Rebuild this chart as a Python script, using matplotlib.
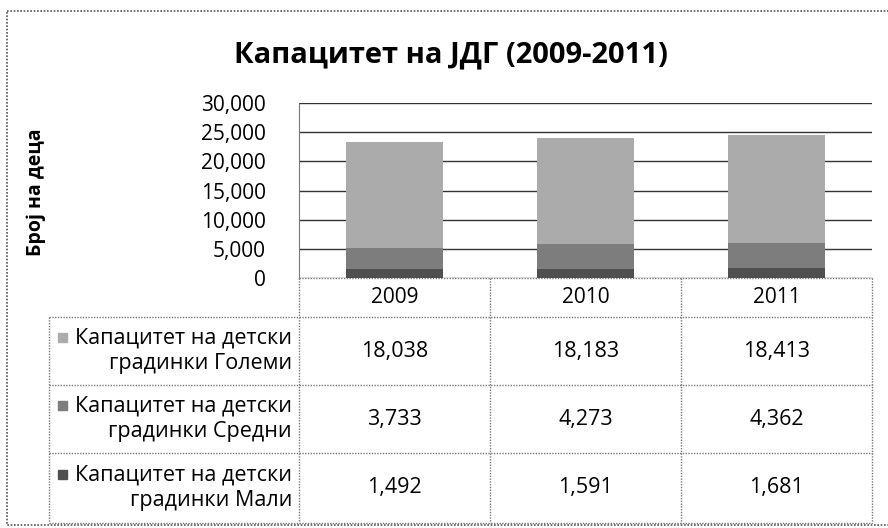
import matplotlib.pyplot as plt
import numpy as np
from matplotlib.patches import Rectangle

plt.rcParams['font.family'] = ['Open Sans', 'DejaVu Sans']

years = ["2009", "2010", "2011"]
series_names = [
    "Капацитет на детски\nградинки Големи",
    "Капацитет на детски\nградинки Средни",
    "Капацитет на детски\nградинки Мали",
]
golemi = [18038, 18183, 18413]
sredni = [3733, 4273, 4362]
mali = [1492, 1591, 1681]
colors = ["#ababab", "#7d7d7d", "#4f4f4f"]

W, H = 888, 528
fig = plt.figure(figsize=(W / 100, H / 100), dpi=100)


def fx(px):
    return px / W


def fy(py):
    return 1 - py / H


# overlay axes in pixel coordinates for frame and table
ov = fig.add_axes([0, 0, 1, 1])
ov.set_xlim(0, W)
ov.set_ylim(H, 0)
ov.axis("off")

ov.add_patch(Rectangle((7, 11), 890, 514, fill=False, ec="#555555", lw=1.2, ls=(0, (1, 1))))

fig.text(fx(451), fy(55), "Капацитет на ЈДГ (2009-2011)", ha="center", va="center",
         fontsize=21, fontweight="bold")
fig.text(fx(36), fy(192), "Број на деца", ha="center", va="center", rotation=90,
         fontsize=14, fontweight="bold")

# bar chart
left, right, top, bottom = 299, 872, 103, 278
ax = fig.add_axes([fx(left), fy(bottom), fx(right) - fx(left), fy(top) - fy(bottom)])
x = np.arange(len(years))
ax.bar(x, mali, width=0.51, color=colors[2], zorder=3)
ax.bar(x, sredni, width=0.51, bottom=mali, color=colors[1], zorder=3)
ax.bar(x, golemi, width=0.51, bottom=np.array(mali) + np.array(sredni), color=colors[0], zorder=3)
ax.set_xlim(-0.5, 2.5)
ax.set_ylim(0, 30000)
ax.set_yticks(np.arange(0, 30001, 5000))
ax.set_yticklabels([f"{v:,}" for v in range(0, 30001, 5000)], fontsize=15)
ax.set_xticks([])
ax.tick_params(axis="y", length=0, pad=24)
ax.yaxis.grid(True, color="#333333", lw=1, zorder=0)
for s in ax.spines.values():
    s.set_visible(False)
ax.spines["left"].set_visible(True)
ax.spines["left"].set_color("#777777")
ax.spines["left"].set_linestyle((0, (1, 1)))

# data table
col_edges = [299, 490, 681, 872]
row_edges = [278, 317, 385, 453, 523]
label_left = 49
lc = "#777777"
ls = (0, (1, 1))

ov.plot([col_edges[0], col_edges[-1]], [row_edges[0], row_edges[0]], color=lc, lw=1, ls=ls)
for c in col_edges:
    ov.plot([c, c], [row_edges[0], row_edges[-1]], color=lc, lw=1, ls=ls)
ov.plot([label_left, label_left], [row_edges[1], row_edges[-1]], color=lc, lw=1, ls=ls)
for r in row_edges[1:]:
    ov.plot([label_left, col_edges[-1]], [r, r], color=lc, lw=1, ls=ls)

for j, yr in enumerate(years):
    cx = (col_edges[j] + col_edges[j + 1]) / 2
    ov.text(cx, (row_edges[0] + row_edges[1]) / 2, yr, ha="center", va="center", fontsize=15)

table_vals = [golemi, sredni, mali]
for i, (name, vals) in enumerate(zip(series_names, table_vals)):
    cy = (row_edges[i + 1] + row_edges[i + 2]) / 2
    ov.text(292, cy, name, ha="right", va="center", fontsize=15.5, linespacing=1.3)
    ov.add_patch(Rectangle((58, cy - 18), 9, 9, color=colors[i]))
    for j, v in enumerate(vals):
        cx = (col_edges[j] + col_edges[j + 1]) / 2
        ov.text(cx, cy, f"{v:,}", ha="center", va="center", fontsize=15.5)

fig.savefig("out.png", dpi=100)
